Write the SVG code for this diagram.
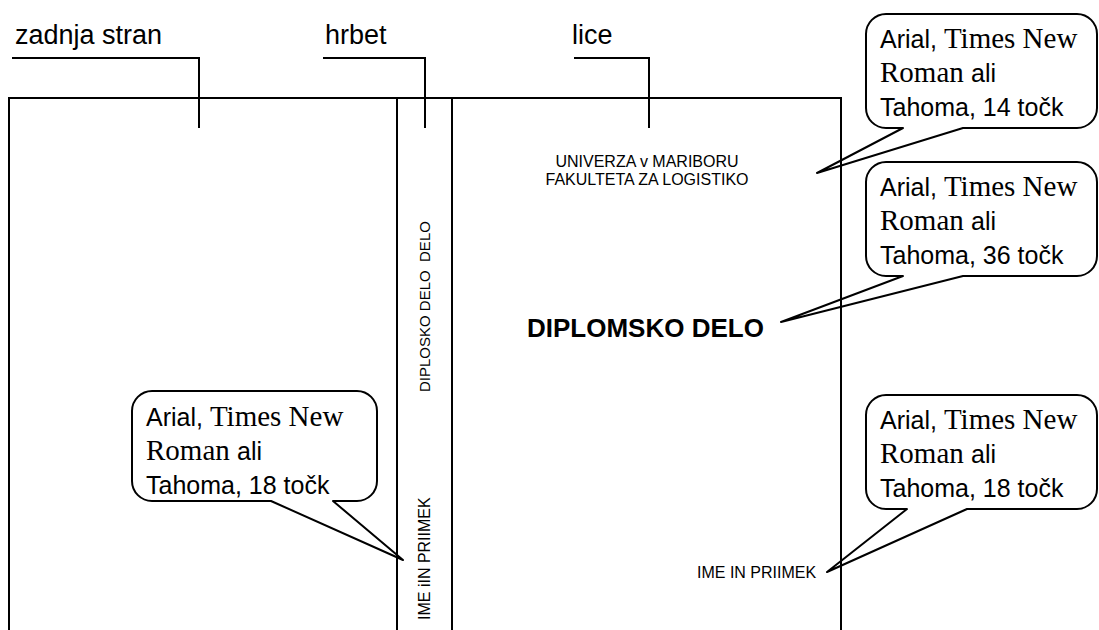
<svg xmlns="http://www.w3.org/2000/svg" width="1099" height="630" viewBox="0 0 1099 630">
<style>
.ln{fill:none;stroke:#000;stroke-width:2}
.bub{fill:none;stroke:#000;stroke-width:2;stroke-linejoin:round}
.lbl{font-family:"Liberation Sans",Arial,sans-serif;font-size:27px;fill:#000}
.a{font-family:"Liberation Sans",Arial,sans-serif;font-size:25px}
.t{font-family:"Liberation Serif","Times New Roman",serif;font-size:29px}
.bt{fill:#000}
.sm{font-family:"Liberation Sans",Arial,sans-serif;font-size:16px;fill:#000}
.sp{font-family:"Liberation Sans",Arial,sans-serif;font-size:15px;fill:#000}
.big{font-family:"Liberation Sans",Arial,sans-serif;font-size:26px;font-weight:bold;fill:#000}
</style>
<rect width="1099" height="630" fill="#fff"/>
<g id="cover">
<path class="ln" d="M9,630 V98 H841 V630 M397,98 V630 M452,98 V630"/>
</g>
<g id="connectors">
<path class="ln" d="M12,58 H199 V128"/>
<path class="ln" d="M323,58 H425 V128"/>
<path class="ln" d="M574,58 H649 V128"/>
</g>
<g id="label-zadnja"><text class="lbl" x="15" y="44">zadnja stran</text></g>
<g id="label-hrbet"><text class="lbl" x="325" y="44">hrbet</text></g>
<g id="label-lice"><text class="lbl" x="572" y="44">lice</text></g>
<g id="front-header">
<text class="sm" x="647" y="167" text-anchor="middle">UNIVERZA v MARIBORU</text>
<text class="sm" x="647" y="185" text-anchor="middle">FAKULTETA ZA LOGISTIKO</text>
</g>
<g id="front-title"><text class="big" x="527" y="337">DIPLOMSKO DELO</text></g>
<g id="front-name"><text class="sm" x="697" y="578">IME IN PRIIMEK</text></g>
<g id="spine-title"><text class="sp" transform="translate(430,392) rotate(-90)" style="white-space:pre">DIPLOSKO DELO  DELO</text></g>
<g id="spine-name"><text class="sm" transform="translate(430,620) rotate(-90)">IME iIN PRIIMEK</text></g>
<g id="callout-14">
<path class="bub" d="M886,14 H1077 A20,20 0 0 1 1097,34 V108 A20,20 0 0 1 1077,128 H963 L817,173 L903,128 H886 A20,20 0 0 1 866,108 V34 A20,20 0 0 1 886,14 Z"/>
<text class="bt" x="880" y="48"><tspan class="a">Arial, </tspan><tspan class="t">Times New</tspan></text>
<text class="bt" x="880" y="82"><tspan class="t">Roman </tspan><tspan class="a">ali</tspan></text>
<text class="bt a" x="880" y="116">Tahoma, 14 točk</text>
</g>
<g id="callout-36">
<path class="bub" d="M886,162 H1077 A20,20 0 0 1 1097,182 V256 A20,20 0 0 1 1077,276 H963 L781,322 L903,276 H886 A20,20 0 0 1 866,256 V182 A20,20 0 0 1 886,162 Z"/>
<text class="bt" x="880" y="196"><tspan class="a">Arial, </tspan><tspan class="t">Times New</tspan></text>
<text class="bt" x="880" y="230"><tspan class="t">Roman </tspan><tspan class="a">ali</tspan></text>
<text class="bt a" x="880" y="264">Tahoma, 36 točk</text>
</g>
<g id="callout-18-right">
<path class="bub" d="M886,395 H1077 A20,20 0 0 1 1097,415 V489 A20,20 0 0 1 1077,509 H967 L827,572 L907,509 H886 A20,20 0 0 1 866,489 V415 A20,20 0 0 1 886,395 Z"/>
<text class="bt" x="880" y="429"><tspan class="a">Arial, </tspan><tspan class="t">Times New</tspan></text>
<text class="bt" x="880" y="463"><tspan class="t">Roman </tspan><tspan class="a">ali</tspan></text>
<text class="bt a" x="880" y="497">Tahoma, 18 točk</text>
</g>
<g id="callout-18-left">
<path class="bub" d="M152,391 H357 A20,20 0 0 1 377,411 V481 A20,20 0 0 1 357,501 H333 L403,560 L271,501 H152 A20,20 0 0 1 132,481 V411 A20,20 0 0 1 152,391 Z"/>
<text class="bt" x="146" y="426"><tspan class="a">Arial, </tspan><tspan class="t">Times New</tspan></text>
<text class="bt" x="146" y="460"><tspan class="t">Roman </tspan><tspan class="a">ali</tspan></text>
<text class="bt a" x="146" y="494">Tahoma, 18 točk</text>
</g>
</svg>
